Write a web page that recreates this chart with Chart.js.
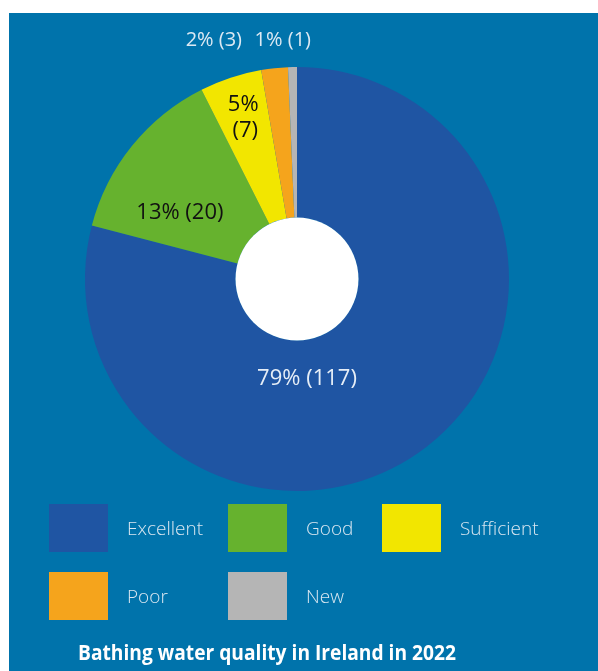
<!DOCTYPE html>
<html>
<head>
<meta charset="utf-8">
<script src="https://cdn.jsdelivr.net/npm/chart.js@4.4.1/dist/chart.umd.min.js"></script>
<style>
  html, body { margin: 0; padding: 0; background: #ffffff; }
  #wrap { position: absolute; left: 0; top: 0; width: 598px; height: 671px; }
</style>
</head>
<body>
<div id="wrap"><canvas id="c" width="598" height="671"></canvas></div>
<script>
// ---- data ----
const categories = ['Excellent', 'Good', 'Sufficient', 'Poor', 'New'];
const counts = [117, 20, 7, 3, 1];
const percentLabels = ['79%', '13%', '5%', '2%', '1%'];
const sliceColors = ['#1F55A3', '#66B22E', '#F2E600', '#F5A41C', '#B5B5B5'];
const chartTitle = 'Bathing water quality in Ireland in 2022';

// ---- label placement (angle clockwise from top, fraction of outer radius) ----
const labelPlacement = [
  { angle: 174.3, frac: 0.474, color: '#E6EEF7', size: 22, twoLines: false },
  { angle: 299.4, frac: 0.634, color: '#111111', size: 22, twoLines: false },
  { angle: 341.5, frac: 0.80,  color: '#111111', size: 22, twoLines: true },
  { angle: 340.8, frac: 1.193, color: '#DCE9F3', size: 20, twoLines: false },
  { angle: 356.6, frac: 1.129, color: '#DCE9F3', size: 20, twoLines: false }
];

const FONT = '"Open Sans", "Noto Sans", sans-serif';

const panelPlugin = {
  id: 'panel',
  beforeDraw(chart) {
    const ctx = chart.ctx;
    ctx.save();
    ctx.fillStyle = '#0073AB';
    ctx.fillRect(9, 13, chart.width - 9, chart.height - 13);
    ctx.restore();
  }
};

const holePlugin = {
  id: 'hole',
  afterDatasetsDraw(chart) {
    const arc = chart.getDatasetMeta(0).data[0];
    const ctx = chart.ctx;
    ctx.save();
    ctx.beginPath();
    ctx.arc(arc.x, arc.y, arc.innerRadius, 0, Math.PI * 2);
    ctx.fillStyle = '#FFFFFF';
    ctx.fill();
    ctx.restore();
  }
};

const sliceLabelPlugin = {
  id: 'sliceLabels',
  afterDraw(chart) {
    const meta = chart.getDatasetMeta(0);
    const arc0 = meta.data[0];
    const cx = arc0.x, cy = arc0.y, R = arc0.outerRadius;
    const ctx = chart.ctx;
    ctx.save();
    ctx.textAlign = 'center';
    ctx.textBaseline = 'middle';
    counts.forEach((v, i) => {
      const p = labelPlacement[i];
      const a = p.angle * Math.PI / 180;
      const x = cx + p.frac * R * Math.sin(a);
      const y = cy - p.frac * R * Math.cos(a);
      ctx.fillStyle = p.color;
      ctx.font = `${p.size}px ${FONT}`;
      if (p.twoLines) {
        ctx.fillText(percentLabels[i], x, y - 13);
        ctx.fillText(`(${v})`, x + 2, y + 13);
      } else {
        ctx.fillText(`${percentLabels[i]} (${v})`, x, y);
      }
    });
    ctx.restore();
  }
};

const legendPlugin = {
  id: 'customLegend',
  afterDraw(chart) {
    const ctx = chart.ctx;
    const colX = [49, 228, 382];
    const rowY = [504, 572];
    const boxW = 59, boxH = 48, textGap = 78;
    ctx.save();
    categories.forEach((name, i) => {
      const col = i % 3, row = Math.floor(i / 3);
      const x = colX[col], y = rowY[row];
      ctx.fillStyle = chart.data.datasets[0].backgroundColor[i];
      ctx.fillRect(x, y, boxW, boxH);
      ctx.fillStyle = '#D9E7F1';
      ctx.font = `300 19px ${FONT}`;
      ctx.textAlign = 'left';
      ctx.textBaseline = 'middle';
      ctx.fillText(name, x + textGap, y + boxH / 2 + 2);
    });
    // title
    ctx.font = `bold 21px ${FONT}`;
    ctx.fillStyle = '#FFFFFF';
    ctx.textBaseline = 'alphabetic';
    ctx.textAlign = 'left';
    const w = ctx.measureText(chartTitle).width;
    const target = 378;
    ctx.translate(78, 660);
    ctx.scale(target / w, 1);
    ctx.fillText(chartTitle, 0, 0);
    ctx.restore();
  }
};

new Chart(document.getElementById('c'), {
  type: 'doughnut',
  data: {
    labels: categories,
    datasets: [{
      data: counts,
      backgroundColor: sliceColors,
      borderWidth: 0,
      hoverOffset: 0
    }]
  },
  options: {
    responsive: false,
    devicePixelRatio: 1,
    animation: false,
    events: [],
    cutout: '29%',
    rotation: 0,
    layout: { padding: { left: 85, right: 89, top: 67, bottom: 180 } },
    plugins: {
      legend: { display: false },
      tooltip: { enabled: false },
      title: { display: false }
    }
  },
  plugins: [panelPlugin, holePlugin, sliceLabelPlugin, legendPlugin]
});
</script>
</body>
</html>
